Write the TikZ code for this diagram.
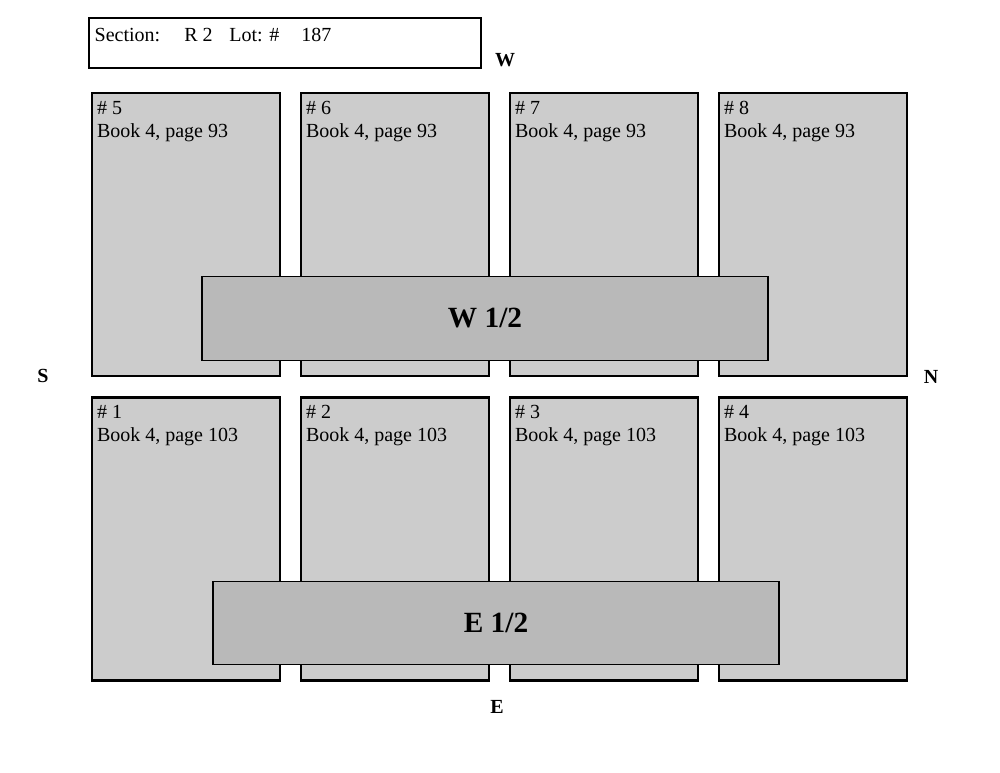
\documentclass[tikz,border=0pt]{standalone}
\usepackage{fontspec}
\setmainfont{Liberation Serif}
\usetikzlibrary{positioning}
\definecolor{lotgray}{HTML}{CCCCCC}
\definecolor{halfgray}{HTML}{B9B9B9}
\tikzset{
  lot/.style={rectangle,draw,line width=1.9pt,fill=lotgray,minimum width=141pt,minimum height=212.5pt,inner sep=0pt},
  lotlabel/.style={anchor=north west,align=left,inner xsep=4.5pt,inner ysep=4.5pt,font=\fontsize{15}{17.5}\selectfont},
  half/.style={rectangle,draw,line width=0.8pt,fill=halfgray,minimum width=424.5pt,minimum height=62.5pt,font=\fontsize{22}{24}\selectfont\bfseries},
  header/.style={rectangle,draw,line width=0.8pt,minimum width=294pt,minimum height=37.5pt,inner sep=0pt},
  compass/.style={font=\fontsize{15}{16}\selectfont\bfseries}
}

\begin{document}
\begin{tikzpicture}[x=0.75pt,y=-0.75pt]
\useasboundingbox (0,0) rectangle (1000,773);
% header
\node[header] (hdr) at (285,43) {};
\node[lotlabel, inner xsep=4.5pt, inner ysep=5.5pt] (hdrtext) at (hdr.north west) {\strut Section:\hspace{18pt}R 2\hspace{12.5pt}Lot: \#\hspace{16.5pt}187};
% west half lots
\node[lot] (lot5) at (186,234.5) {};
\node[lot] (lot6) at (395,234.5) {};
\node[lot] (lot7) at (604,234.5) {};
\node[lot] (lot8) at (813,234.5) {};
% east half lots
\node[lot] (lot1) at (186,539) {};
\node[lot] (lot2) at (395,539) {};
\node[lot] (lot3) at (604,539) {};
\node[lot] (lot4) at (813,539) {};
\node[lotlabel] (txt5) at (lot5.north west) {\strut\# 5\\Book 4, page 93};
\node[lotlabel] (txt6) at (lot6.north west) {\strut\# 6\\Book 4, page 93};
\node[lotlabel] (txt7) at (lot7.north west) {\strut\# 7\\Book 4, page 93};
\node[lotlabel] (txt8) at (lot8.north west) {\strut\# 8\\Book 4, page 93};
\node[lotlabel] (txt1) at (lot1.north west) {\strut\# 1\\Book 4, page 103};
\node[lotlabel] (txt2) at (lot2.north west) {\strut\# 2\\Book 4, page 103};
\node[lotlabel] (txt3) at (lot3.north west) {\strut\# 3\\Book 4, page 103};
\node[lotlabel] (txt4) at (lot4.north west) {\strut\# 4\\Book 4, page 103};
% halves
\node[half] (whalf) at (485,318.5) {W 1/2};
\node[half] (ehalf) at (496,623) {E 1/2};
% compass
\node[compass] (west) at (505,60) {W};
\node[compass] (south) at (43,376) {S};
\node[compass] (north) at (931,377) {N};
\node[compass] (east) at (497,707) {E};
\end{tikzpicture}
\end{document}
